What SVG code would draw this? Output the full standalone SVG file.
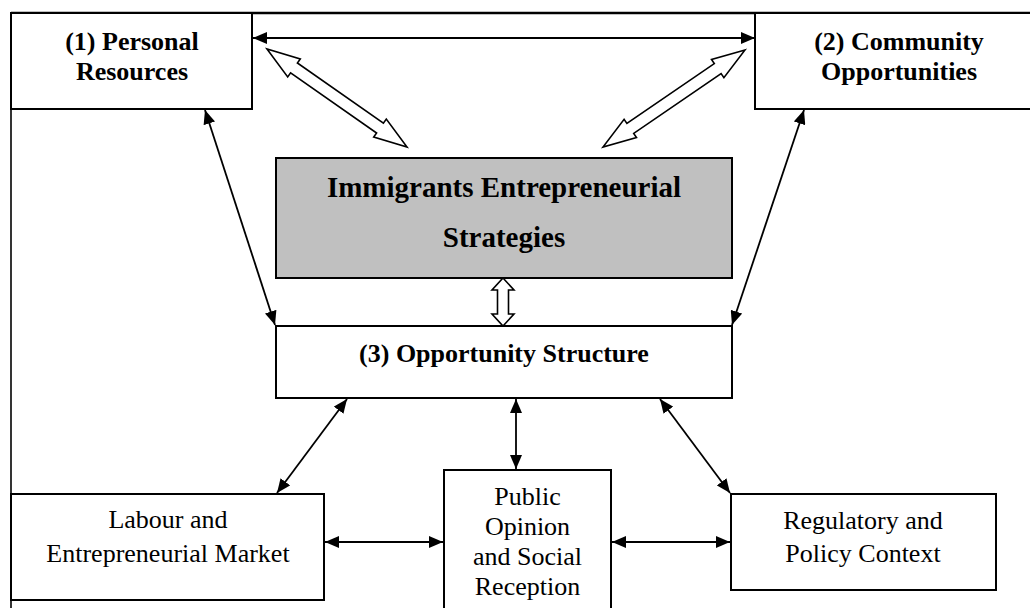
<svg xmlns="http://www.w3.org/2000/svg" width="1030" height="608" viewBox="0 0 1030 608">
  <style>
    .box { fill: #ffffff; stroke: #000000; stroke-width: 2; }
    .core { fill: #c0c0c0; stroke: #000000; stroke-width: 2; }
    .bold { font-family: "Liberation Serif", "Times New Roman", serif; font-weight: bold; font-size: 26px; fill: #000000; text-anchor: middle; }
    .big { font-size: 29px; }
    .plain { font-family: "Liberation Serif", "Times New Roman", serif; font-size: 26px; fill: #000000; text-anchor: middle; }
    .link { stroke: #000000; stroke-width: 1.8; fill: none; marker-start: url(#head); marker-end: url(#head); }
    .hollow { fill: #ffffff; stroke: #000000; stroke-width: 1.6; stroke-linejoin: miter; }
    .frame { stroke: #000000; fill: none; }
  </style>
  <defs>
    <marker id="head" viewBox="0 0 14 12" refX="14" refY="6" markerWidth="14" markerHeight="12" markerUnits="userSpaceOnUse" orient="auto-start-reverse">
      <path d="M0,0 L14,6 L0,12 Z" fill="#000000"/>
    </marker>
  </defs>

  <!-- outer frame: top and left edges -->
  <g id="frame">
    <line class="frame" x1="11" y1="13" x2="1030" y2="13" stroke-width="2.6"/>
    <line class="frame" x1="11" y1="13" x2="11" y2="608" stroke-width="1.6"/>
  </g>

  <g id="personal-resources">
    <rect class="box" x="11" y="13" width="241" height="96"/>
    <text class="bold" x="132" y="50">(1) Personal</text>
    <text class="bold" x="132" y="80">Resources</text>
  </g>

  <g id="community-opportunities">
    <rect class="box" x="755" y="13" width="290" height="96"/>
    <text class="bold" x="899" y="50">(2) Community</text>
    <text class="bold" x="899" y="80">Opportunities</text>
  </g>

  <g id="entrepreneurial-strategies">
    <rect class="core" x="276" y="158" width="456" height="120"/>
    <text class="bold big" x="504" y="197">Immigrants Entrepreneurial</text>
    <text class="bold big" x="504" y="247">Strategies</text>
  </g>

  <g id="opportunity-structure">
    <rect class="box" x="276" y="326" width="456" height="72"/>
    <text class="bold" x="504" y="362">(3) Opportunity Structure</text>
  </g>

  <g id="labour-market">
    <rect class="box" x="11" y="494" width="313" height="106"/>
    <text class="plain" x="168" y="528">Labour and</text>
    <text class="plain" x="168" y="562">Entrepreneurial Market</text>
  </g>

  <g id="public-opinion">
    <rect class="box" x="444" y="470" width="167" height="150"/>
    <text class="plain" x="527.5" y="505">Public</text>
    <text class="plain" x="527.5" y="535">Opinion</text>
    <text class="plain" x="527.5" y="565">and Social</text>
    <text class="plain" x="527.5" y="595">Reception</text>
  </g>

  <g id="regulatory-context">
    <rect class="box" x="731" y="494" width="265" height="96"/>
    <text class="plain" x="863" y="529">Regulatory and</text>
    <text class="plain" x="863" y="562">Policy Context</text>
  </g>

  <g id="connectors">
    <!-- solid two-way links -->
    <line class="link" x1="253" y1="38" x2="755" y2="38"/>
    <line class="link" x1="205" y1="110" x2="275" y2="325"/>
    <line class="link" x1="804" y1="110" x2="732" y2="325"/>
    <line class="link" x1="347" y1="399" x2="277" y2="493"/>
    <line class="link" x1="516" y1="399" x2="516" y2="469"/>
    <line class="link" x1="660" y1="399" x2="730" y2="493"/>
    <line class="link" x1="325" y1="542" x2="443" y2="542"/>
    <line class="link" x1="612" y1="542" x2="730" y2="542"/>
    <!-- hollow block arrows -->
    <polygon class="hollow" points="267,49 287.7,76.9 290.6,72.8 376.6,133 373.7,137.1 407,147 386.3,119.1 383.4,123.2 297.4,63 300.3,58.9"/>
    <polygon class="hollow" points="745,50 711.5,59.5 714.3,63.6 626.9,123.4 624.1,119.3 603,147 636.5,137.5 633.7,133.4 721.1,73.6 723.9,77.7"/>
    <polygon class="hollow" points="503,278 514,290 508.5,290 508.5,314 514,314 503,326 492,314 497.5,314 497.5,290 492,290"/>
  </g>
</svg>
